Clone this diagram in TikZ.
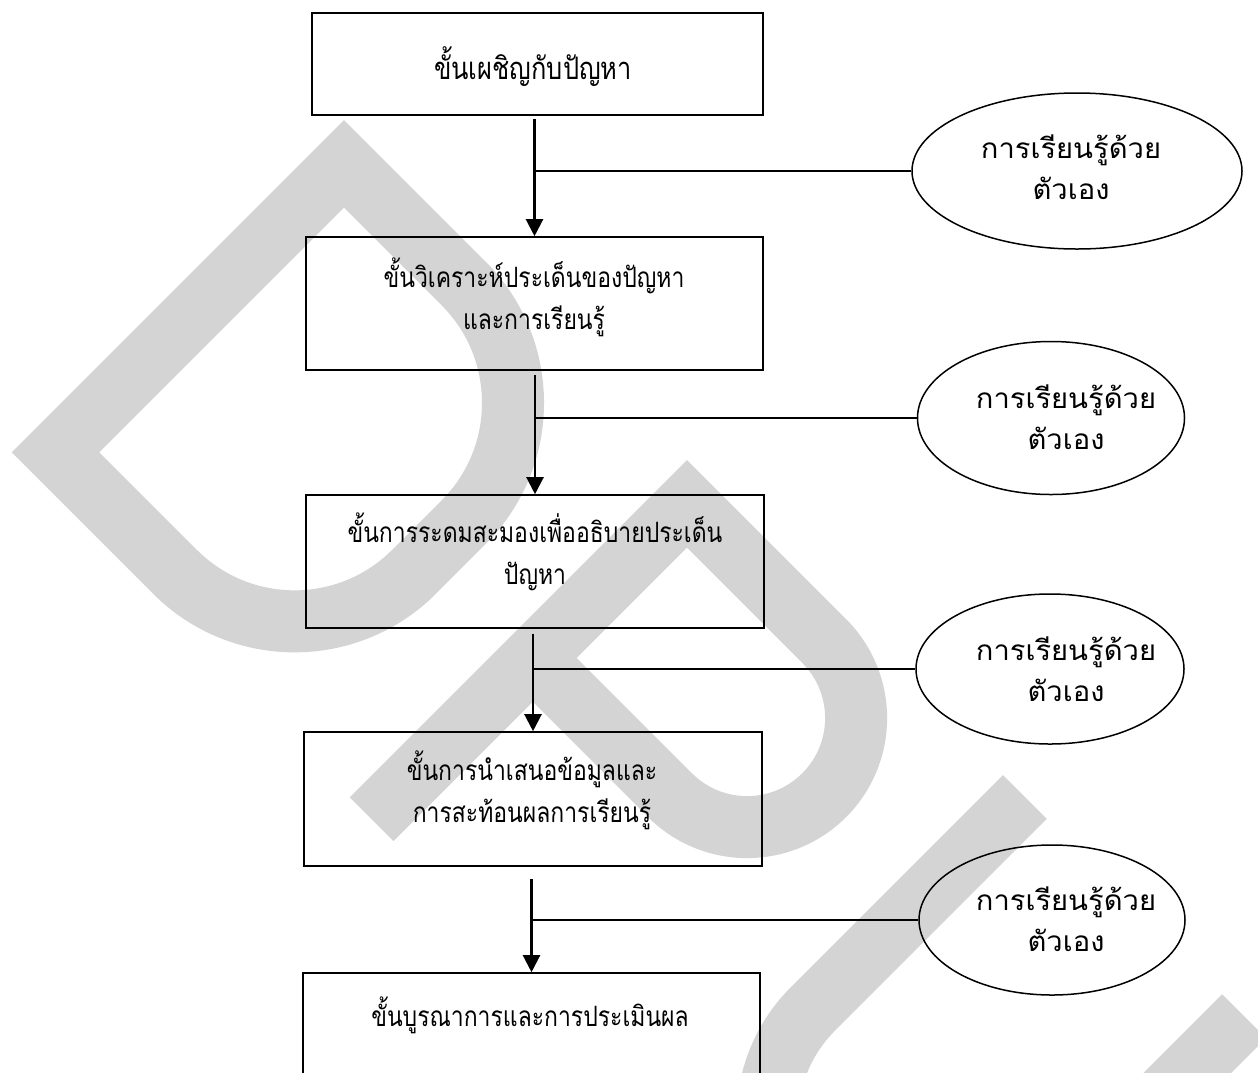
\documentclass[tikz,border=0pt]{standalone}
\usepackage{fontspec}
\newfontfamily\thaifont[Script=Thai,FakeStretch=0.82]{Loma}
\newfontfamily\thaiwide[Script=Thai,FakeStretch=1.04]{Loma}
\usetikzlibrary{arrows.meta,shapes.geometric}
\definecolor{wmgray}{RGB}{212,212,212}
\newcommand\stepfont{\thaifont\fontsize{28pt}{42pt}\selectfont}
\newcommand\bigstepfont{\thaifont\fontsize{31pt}{42pt}\selectfont}
\newcommand\selffont{\thaiwide\fontsize{28pt}{41pt}\selectfont}
\begin{document}
\begin{tikzpicture}[x=1pt,y=-1pt,
  stepbox/.style={draw, line width=1.6pt, rectangle, inner sep=0pt},
  steptext/.style={align=center, inner sep=0pt, font=\stepfont},
  selfbox/.style={draw, line width=1.5pt, ellipse, inner sep=0pt},
  selftext/.style={align=center, inner sep=0pt, font=\selffont},
  flowarrow/.style={line width=2.2pt, -{Triangle[width=17pt,length=17pt]}},
  branch/.style={line width=1.6pt},
  letter/.style={fill=wmgray, even odd rule}]
\useasboundingbox (0,0) rectangle (1258,1072);
\fill[white] (0,0) rectangle (1258,1072);
\clip (0,0) rectangle (1258,1072);

% background lettering: D, P, U set on a diagonal
\begin{scope}[shift={(344pt,-120pt)}, x={(0.7071pt,-0.7071pt)}, y={(-0.7071pt,-0.7071pt)}]
  \fill[letter]
    (0,0) -- (200,0) .. controls (310.5,0) and (400,89.5) .. (400,200)
    -- (400,270) .. controls (400,380.5) and (310.5,470) .. (200,470)
    -- (0,470) -- cycle
    (62,62) -- (200,62) .. controls (276.2,62) and (338,123.8) .. (338,200)
    -- (338,270) .. controls (338,346.2) and (276.2,408) .. (200,408)
    -- (62,408) -- cycle;
\end{scope}
\begin{scope}[shift={(687pt,-460pt)}, x={(0.7071pt,-0.7071pt)}, y={(-0.7071pt,-0.7071pt)}]
  \fill[letter]
    (0,0) -- (225,0) .. controls (302.3,0) and (365,62.7) .. (365,140)
    .. controls (365,217.3) and (302.3,280) .. (225,280)
    -- (62,280) -- (62,477) -- (0,477) -- cycle
    (62,62) -- (225,62) .. controls (268.1,62) and (303,96.9) .. (303,140)
    .. controls (303,183.1) and (268.1,218) .. (225,218)
    -- (62,218) -- cycle;
\end{scope}
\begin{scope}[shift={(1003pt,-775pt)}, x={(0.7071pt,-0.7071pt)}, y={(-0.7071pt,-0.7071pt)}]
  \fill[letter]
    (0,0) -- (0,300) .. controls (0,402.7) and (83.3,486) .. (186,486)
    .. controls (288.7,486) and (372,402.7) .. (372,300)
    -- (372,0) -- (310,0) -- (310,300)
    .. controls (310,368.5) and (254.5,424) .. (186,424)
    .. controls (117.5,424) and (62,368.5) .. (62,300)
    -- (62,0) -- cycle;
\end{scope}

% process steps
\node[stepbox, minimum width=451pt, minimum height=102pt] (b1) at (537.5,64) {};
\node[stepbox, minimum width=457pt, minimum height=133pt] (b2) at (534.5,303.5) {};
\node[stepbox, minimum width=458pt, minimum height=133pt] (b3) at (535,561.5) {};
\node[stepbox, minimum width=458pt, minimum height=134pt] (b4) at (533,799) {};
\node[stepbox, minimum width=457pt, minimum height=134pt] (b5) at (531.5,1040) {};

\node[steptext, font=\bigstepfont] (t1) at (533,67) {ขั้นเผชิญกับปัญหา};
\node[steptext] (t2) at (534,297.5) {ขั้นวิเคราะห์ประเด็นของปัญหา\\และการเรียนรู้};
\node[steptext] (t3) at (535,551.5) {ขั้นการระดมสะมองเพื่ออธิบายประเด็น\\ปัญหา};
\node[steptext] (t4) at (532,790.5) {ขั้นการนำเสนอข้อมูลและ\\การสะท้อนผลการเรียนรู้};
\node[steptext] (t5) at (530,1015) {ขั้นบูรณาการและการประเมินผล};

% self-directed learning
\node[selfbox, minimum width=330pt, minimum height=156pt] (e1) at (1077,171) {};
\node[selfbox, minimum width=267pt, minimum height=153pt] (e2) at (1051,418) {};
\node[selfbox, minimum width=268pt, minimum height=150pt] (e3) at (1050,669) {};
\node[selfbox, minimum width=266pt, minimum height=150pt] (e4) at (1052,920) {};
\node[selftext] (s1) at (1071,167) {การเรียนรู้ด้วย\\ตัวเอง};
\node[selftext] (s2) at (1066,417) {การเรียนรู้ด้วย\\ตัวเอง};
\node[selftext] (s3) at (1066,669) {การเรียนรู้ด้วย\\ตัวเอง};
\node[selftext] (s4) at (1066,919) {การเรียนรู้ด้วย\\ตัวเอง};

% flow between steps
\draw[flowarrow, shorten <=3pt] (b2.north |- b1.south) -- (b2.north);
\draw[flowarrow, shorten <=4pt] (b3.north |- b2.south) -- (b3.north);
\draw[flowarrow, shorten <=5pt] (b4.north |- b3.south) -- (b4.north);
\draw[flowarrow, shorten <=12pt] (b5.north |- b4.south) -- (b5.north);

% side links
\coordinate (j1) at (b2.north |- e1.west);
\coordinate (j2) at (b3.north |- e2.west);
\coordinate (j3) at (b4.north |- e3.west);
\coordinate (j4) at (b5.north |- e4.west);
\draw[branch] (j1) -- (e1.west);
\draw[branch] (j2) -- (e2.west);
\draw[branch] (j3) -- (e3.west);
\draw[branch] (j4) -- (e4.west);
\end{tikzpicture}
\end{document}
